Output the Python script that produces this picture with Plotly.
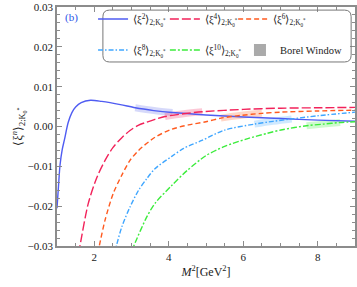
import plotly.graph_objects as go

# ---- data ----
m2_xi2 = [1.0, 1.04, 1.08, 1.14, 1.2, 1.3, 1.4, 1.5, 1.65, 1.9, 2.2, 2.7, 3.1, 3.6, 4.1, 5.0, 6.0, 7.0, 8.0, 9.0]
xi2 = [-0.0205, -0.015, -0.0098, -0.0058, -0.0033, 0.0010, 0.0035, 0.0049, 0.0060, 0.0066, 0.0063, 0.0055,
       0.0047, 0.0040, 0.0035, 0.0029, 0.0024, 0.0020, 0.0016, 0.0013]

m2_xi4 = [1.58, 1.62, 1.84, 2.07, 2.29, 2.5, 2.74, 2.96, 3.18, 3.41, 3.63, 3.9, 4.4, 4.9, 6.0, 7.0, 8.0, 9.0]
xi4 = [-0.032, -0.0298, -0.0193, -0.0128, -0.0085, -0.0053, -0.0028, -0.0010, 0.0003, 0.0011, 0.0018,
       0.0025, 0.0032, 0.0037, 0.0043, 0.0046, 0.0047, 0.0048]

m2_xi6 = [2.1, 2.14, 2.29, 2.51, 2.74, 2.96, 3.19, 3.63, 4.08, 4.53, 5.0, 5.4, 5.95, 6.5, 7.0, 8.0, 9.0]
xi6 = [-0.0318, -0.0298, -0.0235, -0.0168, -0.0122, -0.0085, -0.0060, -0.0027, -0.0007, 0.0004, 0.0012,
       0.0021, 0.0028, 0.0033, 0.0036, 0.0039, 0.0041]

m2_xi8 = [2.55, 2.6, 2.74, 2.96, 3.19, 3.41, 3.63, 4.08, 4.4, 4.89, 5.5, 6.3, 6.8, 7.3, 8.0, 9.0]
xi8 = [-0.032, -0.0298, -0.0252, -0.0202, -0.0160, -0.0131, -0.0106, -0.0075, -0.0055, -0.0035, -0.0009,
       0.0006, 0.0013, 0.0019, 0.0027, 0.0036]

m2_xi10 = [2.98, 3.07, 3.41, 3.63, 4.08, 4.5, 5.0, 5.5, 6.1, 6.65, 7.05, 7.7, 8.15, 8.6, 9.0]
xi10 = [-0.032, -0.0298, -0.0227, -0.0193, -0.0148, -0.0110, -0.0073, -0.0050, -0.0031, -0.0017, -0.0008,
        0.0002, 0.0006, 0.0010, 0.0012]

# Borel windows (M^2 range) for each moment
borel_windows = [(3.1, 4.1), (3.9, 4.9), (5.4, 6.5), (6.3, 7.3), (7.7, 8.6)]

names = ["⟨ξ<sup>2</sup>⟩<sub>2;K<sub>0</sub><sup>*</sup></sub>",
         "⟨ξ<sup>4</sup>⟩<sub>2;K<sub>0</sub><sup>*</sup></sub>",
         "⟨ξ<sup>6</sup>⟩<sub>2;K<sub>0</sub><sup>*</sup></sub>",
         "⟨ξ<sup>8</sup>⟩<sub>2;K<sub>0</sub><sup>*</sup></sub>",
         "⟨ξ<sup>10</sup>⟩<sub>2;K<sub>0</sub><sup>*</sup></sub>"]

x_ticks = [2, 4, 6, 8]
y_ticks = [-0.03, -0.02, -0.01, 0.00, 0.01, 0.02, 0.03]

series = [(m2_xi2, xi2), (m2_xi4, xi4), (m2_xi6, xi6), (m2_xi8, xi8), (m2_xi10, xi10)]
colors = ["#4f5cf2", "#f2225a", "#ff5a1f", "#3fa6ff", "#3cec3c"]
band_colors = ["rgba(120,130,240,0.30)", "rgba(242,34,90,0.25)", "rgba(255,90,31,0.25)",
               "rgba(63,166,255,0.25)", "rgba(60,236,60,0.25)"]
dashes = ["solid", "9px,3px", "5px,3px", "5px,2px,1.5px,2px", "6px,2px,2px,2px"]
legend_ids = ["legend", "legend2", "legend3", "legend4", "legend5"]

fig = go.Figure()

# Borel window bands
for (xs, ys), (lo, hi), bc in zip(series, borel_windows, band_colors):
    bx = [x for x in xs if lo <= x <= hi]
    by = [y for x, y in zip(xs, ys) if lo <= x <= hi]
    fig.add_trace(go.Scatter(x=bx, y=by, mode="lines", line=dict(color=bc, width=7, shape="spline"),
                             showlegend=False, hoverinfo="skip"))

for (xs, ys), nm, c, d, lg in zip(series, names, colors, dashes, legend_ids):
    fig.add_trace(go.Scatter(x=xs, y=ys, mode="lines", name=nm, legend=lg,
                             line=dict(color=c, width=1.4, dash=d, shape="spline", smoothing=0.8)))

fig.add_trace(go.Bar(x=[None], y=[None], name="Borel Window", legend="legend6",
                     marker=dict(color="#aaaaaa", line=dict(width=0))))

axis_common = dict(showgrid=False, zeroline=False, showline=True, linecolor="#8c8c8c", linewidth=1.5,
                   mirror="allticks", ticks="inside", ticklen=5, tickcolor="#8c8c8c", tickwidth=1,
                   automargin=False,
                   tickfont=dict(family="Liberation Serif", size=11, color="#222"))

leg_font = dict(family="Liberation Serif", size=10.5, color="#222")
col_x = [0.121, 0.362, 0.591]
row_y = [0.95, 0.82]
leg_pos = [(col_x[0], row_y[0]), (col_x[1], row_y[0]), (col_x[2], row_y[0]),
           (col_x[0], row_y[1]), (col_x[1], row_y[1]), (0.614, row_y[1])]
leg_layout = {}
for i, (lx, ly) in enumerate(leg_pos):
    key = "legend" if i == 0 else f"legend{i+1}"
    leg_layout[key] = dict(x=lx, y=ly, xanchor="left", yanchor="middle", orientation="v",
                           bgcolor="rgba(0,0,0,0)", font=leg_font, itemwidth=30)

fig.update_layout(
    width=357, height=287,
    margin=dict(l=57, r=2, t=7, b=41, autoexpand=False),
    paper_bgcolor="white", plot_bgcolor="white",
    font=dict(family="Liberation Serif", color="#222"),
    xaxis=dict(range=[1, 9], type="linear", tickvals=x_ticks,
               minor=dict(dtick=0.5, tick0=0, ticks="inside", ticklen=3, tickcolor="#8c8c8c"),
               title=dict(text="<i>M</i><sup>2</sup>[GeV<sup>2</sup>]", font=dict(size=12), standoff=6),
               **axis_common),
    yaxis=dict(range=[-0.03, 0.03], tickvals=y_ticks, tickformat=".2f",
               minor=dict(dtick=0.002, tick0=0, ticks="inside", ticklen=3, tickcolor="#8c8c8c"),
               title=dict(text="⟨ξ<sup><i>n</i></sup>⟩<sub>2;K<sub>0</sub><sup>*</sup></sub>",
                          font=dict(size=12), standoff=2),
               **axis_common),
    showlegend=True,
    annotations=[dict(text="(b)", x=0.05, y=0.955, xref="paper", yref="paper", showarrow=False,
                      xanchor="center", yanchor="middle", font=dict(size=11, color="#2a55e8"))],
    **leg_layout,
)

# rounded legend frame
x0, x1, y0, y1 = 0.154, 0.987, 0.770, 0.987
rx, ry = 0.022, 0.028
path = (f"M{x0+rx},{y1} L{x1-rx},{y1} Q{x1},{y1} {x1},{y1-ry} L{x1},{y0+ry} Q{x1},{y0} {x1-rx},{y0} "
        f"L{x0+rx},{y0} Q{x0},{y0} {x0},{y0+ry} L{x0},{y1-ry} Q{x0},{y1} {x0+rx},{y1} Z")
fig.add_shape(type="path", path=path, xref="paper", yref="paper",
              line=dict(color="#777777", width=1), fillcolor="rgba(0,0,0,0)", layer="above")

fig.write_html("out.html", config={"displayModeBar": False},
               post_script="document.body.style.margin='0';document.body.style.overflow='hidden';")
